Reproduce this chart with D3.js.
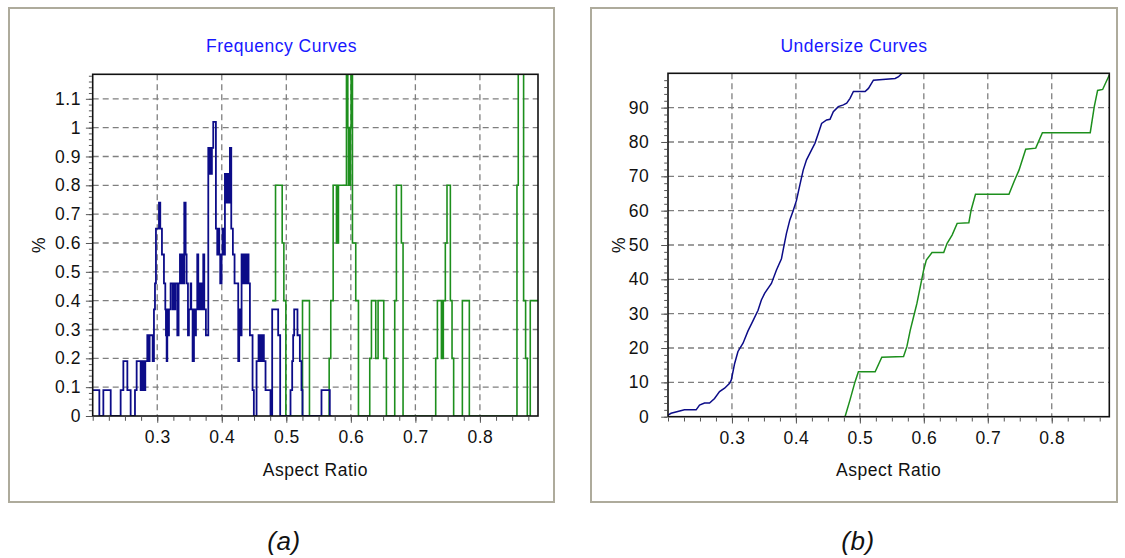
<!DOCTYPE html>
<html>
<head>
<meta charset="utf-8">
<script src="https://cdn.jsdelivr.net/npm/d3@7/dist/d3.min.js"></script>
<style>
  body { margin: 0; background: #fff; }
  svg text { font-family: Arial, "Liberation Sans", sans-serif; letter-spacing: 0.5px; }
</style>
</head>
<body>
<svg id="chart" width="1125" height="558"></svg>
<script>
// ---- shared axis values ----
const ratioDomain = [0.2, 0.89];
const ratioTicks = [0.3, 0.4, 0.5, 0.6, 0.7, 0.8];
const ratioTickLabels = ["0.3", "0.4", "0.5", "0.6", "0.7", "0.8"];

// ---- frequency curves (step series: [aspect ratio, %]) ----
const freqTicks = [0, 0.1, 0.2, 0.3, 0.4, 0.5, 0.6, 0.7, 0.8, 0.9, 1.0, 1.1];
const freqTickLabels = ["0", "0.1", "0.2", "0.3", "0.4", "0.5", "0.6", "0.7", "0.8", "0.9", "1", "1.1"];

const freqBlue = [
  [0.2000, 0.09], [0.2103, 0], [0.2165, 0.09], [0.2279, 0], [0.2433, 0.09], [0.2475, 0.19],
  [0.2537, 0.09], [0.2588, 0], [0.2655, 0.09], [0.2681, 0.19], [0.2743, 0.09], [0.2759, 0.19],
  [0.2774, 0.09], [0.2789, 0.19], [0.2805, 0.09], [0.2815, 0.19], [0.2846, 0.28], [0.2867, 0.19],
  [0.2882, 0.28], [0.2929, 0.19], [0.2949, 0.37], [0.2965, 0.46], [0.2980, 0.65], [0.3027, 0.74],
  [0.3047, 0.65], [0.3073, 0.56], [0.3104, 0.46], [0.3125, 0.37], [0.3135, 0.28], [0.3146, 0.19],
  [0.3156, 0.37], [0.3171, 0.28], [0.3182, 0.37], [0.3207, 0.46], [0.3238, 0.37], [0.3249, 0.46],
  [0.3269, 0.37], [0.3280, 0.46], [0.3311, 0.28], [0.3331, 0.46], [0.3352, 0.56], [0.3367, 0.46],
  [0.3383, 0.56], [0.3398, 0.46], [0.3419, 0.74], [0.3440, 0.56], [0.3455, 0.46], [0.3476, 0.28],
  [0.3491, 0.37], [0.3517, 0.46], [0.3527, 0.37], [0.3548, 0.19], [0.3569, 0.37], [0.3589, 0.28],
  [0.3600, 0.37], [0.3620, 0.56], [0.3636, 0.37], [0.3662, 0.46], [0.3677, 0.37], [0.3692, 0.46],
  [0.3703, 0.37], [0.3713, 0.56], [0.3729, 0.37], [0.3754, 0.28], [0.3791, 0.93], [0.3816, 0.84],
  [0.3827, 0.93], [0.3837, 0.84], [0.3847, 0.93], [0.3868, 1.02], [0.3909, 0.65], [0.3930, 0.56],
  [0.3945, 0.65], [0.3961, 0.56], [0.3976, 0.46], [0.3997, 0.56], [0.4012, 0.65], [0.4028, 0.56],
  [0.4049, 0.84], [0.4074, 0.74], [0.4090, 0.84], [0.4105, 0.74], [0.4126, 0.93], [0.4147, 0.65],
  [0.4172, 0.56], [0.4198, 0.46], [0.4255, 0.19], [0.4270, 0.37], [0.4286, 0.28], [0.4307, 0.56],
  [0.4322, 0.46], [0.4337, 0.56], [0.4353, 0.46], [0.4368, 0.56], [0.4384, 0.46], [0.4399, 0.56],
  [0.4415, 0.46], [0.4436, 0.28], [0.4477, 0.09], [0.4497, 0], [0.4539, 0.19], [0.4570, 0.28],
  [0.4590, 0.19], [0.4606, 0.28], [0.4621, 0.19], [0.4632, 0.28], [0.4652, 0.19], [0.4678, 0.09],
  [0.4755, 0], [0.4781, 0.37], [0.4874, 0.28], [0.4905, 0], [0.5065, 0.09], [0.5091, 0.19],
  [0.5106, 0.28], [0.5122, 0.37], [0.5173, 0.28], [0.5210, 0.19], [0.5235, 0.09], [0.5251, 0],
  [0.5545, 0.09], [0.5674, 0], [0.5700, 0]
];

const freqGreen = [
  [0.4781, 0.4], [0.4833, 0.8], [0.4936, 0.6], [0.4962, 0.4], [0.4993, 0], [0.5251, 0.4],
  [0.5359, 0], [0.5664, 0.2], [0.5689, 0.4], [0.5726, 0.8], [0.5777, 0.6], [0.5788, 0.8],
  [0.5798, 0.6], [0.5808, 0.8], [0.5932, 1.2], [0.5953, 1.0], [0.5963, 0.8], [0.5973, 1.0],
  [0.5984, 0.8], [0.5994, 1.0], [0.6004, 1.2], [0.6025, 0.6], [0.6076, 0.4], [0.6118, 0],
  [0.6293, 0.2], [0.6319, 0.4], [0.6386, 0.2], [0.6422, 0.4], [0.6510, 0.2], [0.6551, 0],
  [0.6680, 0.4], [0.6706, 0.8], [0.6783, 0.6], [0.6809, 0], [0.7315, 0.2], [0.7341, 0.4],
  [0.7403, 0.2], [0.7413, 0.4], [0.7423, 0.2], [0.7433, 0.4], [0.7464, 0.6], [0.7490, 0.8],
  [0.7542, 0.4], [0.7568, 0.2], [0.7593, 0], [0.7728, 0.4], [0.7836, 0], [0.8574, 0.8],
  [0.8594, 1.2], [0.8677, 0.4], [0.8708, 0.2], [0.8734, 0], [0.8780, 0.4], [0.8900, 0.4]
];

// ---- undersize (cumulative) curves: [aspect ratio, %] ----
const undersizeTicks = [0, 10, 20, 30, 40, 50, 60, 70, 80, 90];
const undersizeTickLabels = ["0", "10", "20", "30", "40", "50", "60", "70", "80", "90"];

const undersizeBlue = [
  [0.2000, 0], [0.2005, 0.5], [0.2048, 1], [0.2153, 1.5], [0.2257, 2], [0.2440, 2],
  [0.2493, 3.4], [0.2571, 4], [0.2650, 4], [0.2728, 5.3], [0.2806, 7.3], [0.2885, 8.3],
  [0.2963, 9.7], [0.2990, 10.7], [0.3042, 15.5], [0.3094, 19], [0.3173, 21.4], [0.3251, 25],
  [0.3330, 28], [0.3408, 31], [0.3460, 34], [0.3513, 36], [0.3617, 38.8], [0.3696, 42.7],
  [0.3774, 46], [0.3800, 48.5], [0.3852, 53.4], [0.3905, 57.3], [0.3957, 60], [0.4009, 63],
  [0.4062, 67.5], [0.4114, 71.8], [0.4166, 74.8], [0.4245, 77.7], [0.4297, 79.6], [0.4350, 82.5],
  [0.4402, 85.4], [0.4480, 86.4], [0.4533, 86.6], [0.4585, 88.8], [0.4663, 90.3], [0.4742, 90.8],
  [0.4794, 91.3], [0.4846, 92.7], [0.4899, 94.7], [0.5082, 94.7], [0.5134, 95.6], [0.5212, 98],
  [0.5552, 98.5], [0.5605, 99], [0.5631, 99.5], [0.5660, 100]
];

const undersizeGreen = [
  [0.4768, 0], [0.4846, 4.9], [0.4925, 10.2], [0.4977, 13.1], [0.5239, 13.1], [0.5343, 17.3],
  [0.5683, 17.5], [0.5735, 20.4], [0.5788, 25.2], [0.5840, 29.1], [0.5892, 33], [0.5945, 37.9],
  [0.5997, 42.7], [0.6039, 45.6], [0.6128, 47.8], [0.6311, 47.8], [0.6364, 50.5], [0.6442, 52.9],
  [0.6521, 56.3], [0.6704, 56.5], [0.6740, 60.2], [0.6808, 64.8], [0.7331, 64.8], [0.7410, 68.4],
  [0.7488, 71.8], [0.7593, 77.9], [0.7750, 78.2], [0.7854, 82.7], [0.8602, 82.7], [0.8665, 90.3],
  [0.8717, 95], [0.8796, 95.3], [0.8900, 99.5]
];

const BLUE = "#0c0c88";
const GREEN = "#1d8f1d";
const FONT = 17.5;

const svg = d3.select("#chart");

function styleText(sel) {
  sel.attr("font-size", FONT).attr("fill", "#111")
    .attr("font-family", "Arial, 'Liberation Sans', sans-serif");
}

function drawPanel(cfg) {
  const g = svg.append("g");

  // outer frame of the panel
  g.append("rect")
    .attr("x", cfg.frame[0]).attr("y", cfg.frame[1])
    .attr("width", cfg.frame[2]).attr("height", cfg.frame[3])
    .attr("fill", "#fff").attr("stroke", "#aeab9c").attr("stroke-width", 2);

  const p = cfg.plot;
  const x = d3.scaleLinear().domain(ratioDomain).range([p.l, p.r]);
  const y = d3.scaleLinear().domain(cfg.yDomain).range([p.b, p.t]);

  // title
  g.append("text")
    .attr("x", (cfg.frame[0] + cfg.frame[0] + cfg.frame[2]) / 2).attr("y", 52)
    .attr("text-anchor", "middle").attr("font-size", FONT).attr("fill", "#1818ff")
    .text(cfg.title);

  // dashed grid
  g.append("g").selectAll("line").data(ratioTicks).join("line")
    .attr("x1", d => x(d)).attr("x2", d => x(d))
    .attr("y1", p.t).attr("y2", p.b)
    .attr("stroke", "#7f7f7f").attr("stroke-width", 1.3).attr("stroke-dasharray", "6,4");
  g.append("g").selectAll("line").data(cfg.yTicks.filter(d => d > 0)).join("line")
    .attr("x1", p.l).attr("x2", p.r)
    .attr("y1", d => y(d)).attr("y2", d => y(d))
    .attr("stroke", "#7f7f7f").attr("stroke-width", 1.3).attr("stroke-dasharray", "6,4");

  // series, clipped to the plot area
  const clipId = "clip-" + cfg.id;
  svg.append("defs").append("clipPath").attr("id", clipId)
    .append("rect").attr("x", p.l).attr("y", p.t)
    .attr("width", p.r - p.l).attr("height", p.b - p.t);
  const lines = g.append("g").attr("clip-path", `url(#${clipId})`);
  cfg.series.forEach(s => {
    const line = d3.line().x(d => x(d[0])).y(d => y(d[1])).curve(s.curve);
    lines.append("path").datum(s.data)
      .attr("d", line).attr("fill", "none")
      .attr("stroke", s.color).attr("stroke-width", s.width)
      .attr("stroke-linejoin", "miter");
  });

  // plot frame
  g.append("rect")
    .attr("x", p.l).attr("y", p.t).attr("width", p.r - p.l).attr("height", p.b - p.t)
    .attr("fill", "none").attr("stroke", "#111").attr("stroke-width", 1.6);

  // bottom axis: minor and major ticks with labels
  const xMinor = d3.axisBottom(x).tickValues(d3.range(0.2, 0.8901, 0.025)).tickSize(4).tickFormat("");
  const xMajor = d3.axisBottom(x).tickValues(ratioTicks).tickSize(6)
    .tickFormat((d, i) => ratioTickLabels[i]).tickPadding(8);
  [xMinor, xMajor].forEach(ax => {
    const a = g.append("g").attr("transform", `translate(0,${p.b + 0.8})`).call(ax);
    a.select(".domain").remove();
    a.selectAll("line").attr("stroke", "#555");
    styleText(a.selectAll("text"));
  });

  // left axis: minor and major ticks with labels
  const yMinor = d3.axisLeft(y).tickValues(d3.range(0, cfg.yDomain[1], cfg.minorStep)).tickSize(3).tickFormat("");
  const yMajor = d3.axisLeft(y).tickValues(cfg.yTicks).tickSize(6)
    .tickFormat((d, i) => cfg.yTickLabels[i]).tickPadding(cfg.labelPad);
  [yMinor, yMajor].forEach(ax => {
    const a = g.append("g").attr("transform", `translate(${p.l - 0.8},0)`).call(ax);
    a.select(".domain").remove();
    a.selectAll("line").attr("stroke", "#555");
    styleText(a.selectAll("text"));
  });

  // axis titles
  styleText(g.append("text")
    .attr("x", (p.l + p.r) / 2).attr("y", 476)
    .attr("text-anchor", "middle")
    .text("Aspect Ratio"));
  styleText(g.append("text")
    .attr("transform", `translate(${cfg.pctX},245) rotate(-90)`)
    .attr("text-anchor", "middle")
    .text("%"));

  // caption below the panel
  svg.append("text")
    .attr("x", cfg.captionX).attr("y", 550)
    .attr("text-anchor", "middle").attr("font-size", 26).attr("font-style", "italic")
    .attr("fill", "#111").text(cfg.caption);
}

drawPanel({
  id: "freq",
  frame: [9, 8, 545, 494],
  title: "Frequency Curves",
  plot: { l: 92.7, r: 538, t: 74.3, b: 416 },
  yDomain: [0, 1.185],
  yTicks: freqTicks,
  yTickLabels: freqTickLabels,
  minorStep: 0.02,
  labelPad: 5,
  pctX: 45,
  caption: "(a)",
  captionX: 284,
  series: [
    { data: freqGreen, color: GREEN, width: 1.6, curve: d3.curveStepAfter },
    { data: freqBlue, color: BLUE, width: 1.8, curve: d3.curveStepAfter }
  ]
});

drawPanel({
  id: "under",
  frame: [591, 8, 526, 494],
  title: "Undersize Curves",
  plot: { l: 668, r: 1109.3, t: 73.3, b: 416.7 },
  yDomain: [0, 100],
  yTicks: undersizeTicks,
  yTickLabels: undersizeTickLabels,
  minorStep: 2,
  labelPad: 12,
  pctX: 625,
  caption: "(b)",
  captionX: 858,
  series: [
    { data: undersizeBlue, color: BLUE, width: 1.5, curve: d3.curveLinear },
    { data: undersizeGreen, color: GREEN, width: 1.5, curve: d3.curveLinear }
  ]
});
</script>
</body>
</html>
